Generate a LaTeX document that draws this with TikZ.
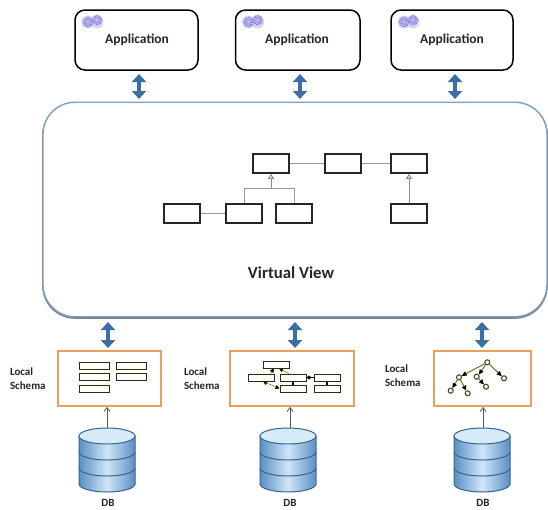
\documentclass[tikz,border=0pt]{standalone}
\usepackage{fontspec}
\setmainfont{Carlito}
\usetikzlibrary{arrows.meta,calc}
\definecolor{vvblue}{HTML}{7C9FC4}
\definecolor{arrowblue}{HTML}{3A6EA5}
\definecolor{orangeb}{HTML}{E8A05C}
\definecolor{olive}{HTML}{6E6E2A}
\definecolor{gearc}{HTML}{7B78DC}
\definecolor{dbedge}{HTML}{34648F}
\definecolor{dbside}{HTML}{5B8FC4}
\definecolor{dbmid}{HTML}{CFE6F7}
\definecolor{dbtop}{HTML}{D6EAF8}
\tikzset{
  appbox/.style={draw=black,line width=1.5pt,rounded corners=10pt,fill=white},
  apptext/.style={font=\bfseries\fontsize{13.5}{15}\selectfont,text=black!85},
  classbox/.style={draw=black!85,line width=1.5pt,fill=white},
  classline/.style={draw=black!40,line width=1pt},
  inherit/.style={draw=black!45,line width=1pt,-{Triangle[open,length=5pt,width=6pt]}},
  bigarrow/.style={draw=arrowblue,line width=4.4pt,{Triangle[length=8pt,width=14pt]}-{Triangle[length=8pt,width=14pt]}},
  schemabox/.style={draw=orangeb,line width=1.8pt,fill=white},
  minibox/.style={draw=black!60!olive,line width=1pt,fill=white},
  lslabel/.style={font=\bfseries\fontsize{11}{14}\selectfont,align=left,text=black!85,anchor=west},
  dblabel/.style={font=\bfseries\fontsize{11}{12}\selectfont,text=black!85},
  dbarrow/.style={draw=black!65,line width=.8pt,-{Straight Barb[length=4pt,width=6pt]}},
  yellowline/.style={draw=olive!70!yellow,line width=.8pt},
  treenode/.style={circle,draw=olive!70!black,line width=1.1pt,fill=white,minimum size=5pt,inner sep=0pt},
  treeedge/.style={draw=olive,line width=1pt,-{Triangle[length=5pt,width=4.5pt,black]}},
}
\newcommand{\gearicon}[2]{%
  \fill[gearc!30] ({#1},{#2+1}) circle (6.5);
  \fill[gearc!30] ({#1+9},{#2+1}) circle (6.5);
  \draw[gearc,line width=1.4pt,dash pattern=on 1.3pt off 1pt] ({#1},{#2+1}) circle (4.6);
  \draw[gearc,line width=1.4pt,dash pattern=on 1.3pt off 1pt] ({#1+9},{#2-1}) circle (4.6);
  \fill[gearc!70] ({#1},{#2+1}) circle (3.7);
  \fill[gearc!70] ({#1+9},{#2-1}) circle (3.7);
  \fill[white!70!gearc] ({#1},{#2+1}) circle (1.2);
  \fill[white!70!gearc] ({#1+9},{#2-1}) circle (1.2);
}
\newcommand{\dbcyl}[1]{% center x
  \path[left color=dbside,right color=dbside,middle color=dbmid]
    ({#1-28},436) -- ({#1-28},484) arc[start angle=180,end angle=0,x radius=28,y radius=8] -- ({#1+28},436) -- cycle;
  \draw[dbedge,line width=1pt] ({#1-28},436) -- ({#1-28},484) arc[start angle=180,end angle=0,x radius=28,y radius=8] -- ({#1+28},436);
  \draw[dbedge,line width=1pt] ({#1-28},452) arc[start angle=180,end angle=0,x radius=28,y radius=8];
  \draw[dbedge,line width=1pt] ({#1-28},468) arc[start angle=180,end angle=0,x radius=28,y radius=8];
  \draw[dbedge,line width=1pt,fill=dbtop] (#1,436) ellipse[x radius=28,y radius=8];
}
\begin{document}
\begin{tikzpicture}[x=1pt,y=-1pt]
\useasboundingbox (0,0) rectangle (548,509);
\fill[white] (0,0) rectangle (548,509);

% virtual view
\draw[black!50,line width=1.6pt,rounded corners=32] (43,103) rectangle (547,318);
\node[draw=vvblue,line width=1.4pt,fill=white,rounded corners=32,inner sep=0pt,minimum width=504pt,minimum height=214.5pt] (vv) at (295,209.5) {};
\node[font=\bfseries\fontsize{16.8}{18}\selectfont,text=black!85] (vvt) at (291,273) {Virtual View};

% applications
\foreach \n/\xa/\xb/\tx in {1/75/198/137,2/235.5/360/297,3/391/513/452}{
  \pgfmathsetmacro{\boxw}{\xb-\xa}
  \node[appbox,minimum width=\boxw pt,minimum height=60pt,inner sep=0pt] (app\n) at ({(\xa+\xb)/2},40) {};
  \node[apptext] (appt\n) at (\tx,40) {Application};
  \gearicon{\xa+13}{21}
}

% big arrows
\foreach \n/\x in {1/139,2/300,3/455}{
  \coordinate (au\n) at (\x,74);
  \coordinate (ad\n) at (\x,99);
  \draw[bigarrow] (au\n) -- (ad\n);
}
\foreach \n/\x in {1/108,2/295,3/482}{
  \coordinate (lu\n) at (\x,322);
  \coordinate (ld\n) at (\x,348);
  \draw[bigarrow] (lu\n) -- (ld\n);
}

% class boxes
\foreach \n/\x/\y in {A/271/163.5,B/343/163.5,C/409/163.5,D/182/213.5,E/244/213.5,F/294/213.5,G/409/213.5}{
  \node[classbox,minimum width=36pt,minimum height=19pt,inner sep=0pt] (\n) at (\x,\y) {};
}
\draw[classline] (A) -- (B);
\draw[classline] (B) -- (C);
\draw[classline] (D) -- (E);
\coordinate (j) at (271,188);
\draw[classline] (E.north) |- (j);
\draw[classline] (F.north) |- (j);
\draw[inherit] (j) -- (A.south);
\draw[inherit] (G) -- (C);

% local schema boxes
\node[schemabox,minimum width=103pt,minimum height=55pt,inner sep=0pt] (s1) at (109.5,378.5) {};
\node[schemabox,minimum width=124pt,minimum height=55pt,inner sep=0pt] (s2) at (292,378.5) {};
\node[schemabox,minimum width=97pt,minimum height=55pt,inner sep=0pt] (s3) at (482.5,378.5) {};

\node[lslabel] (ls1) at (6.5,379) {Local\\Schema};
\node[lslabel] (ls2) at (180.5,379) {Local\\Schema};
\node[lslabel] (ls3) at (381.5,376) {Local\\Schema};

% schema 1
\foreach \n/\x/\y in {a/94/365.5,b/131/365.5,c/94/377,d/131/377,e/94/389}{
  \node[minibox,minimum width=30pt,minimum height=7pt,inner sep=0pt] (m\n) at (\x,\y) {};
}

% schema 2
\foreach \n/\x/\y in {a/276/364.5,b/261/377.5,c/293/377.5,d/327/377.5,e/293/388.5,f/327/388.5}{
  \node[minibox,minimum width=26pt,minimum height=7pt,inner sep=0pt] (p\n) at (\x,\y) {};
}
\draw[yellowline,-{Triangle[length=4pt,width=4pt,black]}] ([xshift=-4pt]pb.north east) -- ([xshift=-2pt]pa.south);
\draw[yellowline,-{Triangle[length=4pt,width=4pt,black]}] ([xshift=-4pt]pc.north) -- ([xshift=3pt]pa.south);
\draw[black,line width=2.5pt] (pc) -- (pe);
\draw[black,line width=2.5pt] (pd) -- (pf);
\draw[yellowline,{Triangle[length=4pt,width=4pt,black]}-{Triangle[length=4pt,width=4pt,black]}] ([xshift=2pt]pb.south) -- (pe.west);
\foreach \n in {a,b,c,d,e,f}{\node[minibox,minimum width=26pt,minimum height=7pt,inner sep=0pt] at (p\n) {};}
\draw[black,-{Diamond[length=5pt,width=4pt]},line width=1pt] (pd.west) -- (pc.east);

% schema 3
\foreach \n/\x/\y in {a/487.3/362.3,b/459/377.3,c/476.7/376.7,d/504/378.3,e/450.7/390.7,f/467.7/393.3,g/486/386.7}{
  \node[treenode] (t\n) at (\x,\y) {};
}
\draw[treeedge] (ta) -- (tb);
\draw[treeedge] (ta) -- (tc.north east);
\draw[treeedge] (ta) -- (td);
\draw[treeedge] (tb) -- (te);
\draw[treeedge] (tb) -- (tf);
\draw[treeedge] (tc) -- (tg);

% databases
\dbcyl{107}
\dbcyl{288}
\dbcyl{482}
\coordinate (dbt1) at (107,428);
\coordinate (dbt2) at (290,428);
\coordinate (dbt3) at (483,428);
\draw[dbarrow] (dbt1) -- (dbt1 |- s1.south);
\draw[dbarrow] (dbt2) -- (dbt2 |- s2.south);
\draw[dbarrow] (dbt3) -- (dbt3 |- s3.south);
\node[dblabel] (dl1) at (108,502.5) {DB};
\node[dblabel] (dl2) at (290,502.5) {DB};
\node[dblabel] (dl3) at (483,502.5) {DB};
\end{tikzpicture}
\end{document}
